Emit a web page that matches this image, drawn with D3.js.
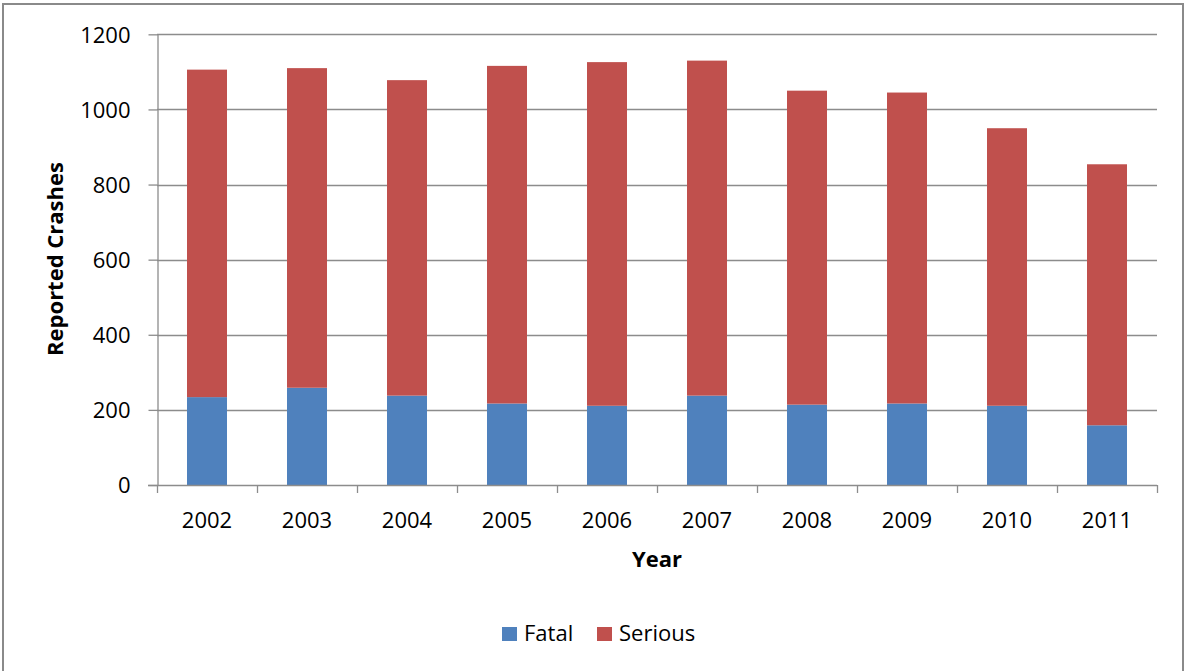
<!DOCTYPE html>
<html>
<head>
<meta charset="utf-8">
<script src="https://cdn.jsdelivr.net/npm/d3@7"></script>
<style>
  html, body { margin: 0; padding: 0; background: #fff; }
  svg { display: block; font-family: "Open Sans", sans-serif; }
</style>
</head>
<body>
<svg id="chart" width="1185" height="671"></svg>
<script>
const years = ["2002","2003","2004","2005","2006","2007","2008","2009","2010","2011"];
const fatal = [234, 259, 238, 217, 211, 238, 214, 217, 211, 159];
const serious = [872, 851, 840, 899, 915, 892, 836, 828, 739, 695];
const yTicks = [0, 200, 400, 600, 800, 1000, 1200];
const seriesNames = ["Fatal", "Serious"];
const seriesColors = ["#4F81BD", "#C0504D"];

const svg = d3.select("#chart");
const gridColor = "#8c8c8c";

// outer border
svg.append("rect").attr("x", 3).attr("y", 4).attr("width", 1180).attr("height", 700)
  .attr("fill", "none").attr("stroke", "#8a8a8a").attr("stroke-width", 2);

const x = d3.scaleBand().domain(years).range([157, 1157]).paddingInner(0.6).paddingOuter(0.3);
const y = d3.scaleLinear().domain([0, 1200]).range([485, 34.33]);

// gridlines
svg.append("g").selectAll("line").data(yTicks.filter(d => d > 0)).join("line")
  .attr("x1", 157).attr("x2", 1157)
  .attr("y1", d => Math.round(y(d)) + 0.5).attr("y2", d => Math.round(y(d)) + 0.5)
  .attr("stroke", gridColor).attr("stroke-width", 1.3);

// stacked bars
const rows = years.map((yr, i) => ({ year: yr, Fatal: fatal[i], Serious: serious[i] }));
const stack = d3.stack().keys(seriesNames)(rows);
svg.append("g").selectAll("g").data(stack).join("g")
  .attr("fill", (d, i) => seriesColors[i])
  .selectAll("rect").data(d => d).join("rect")
  .attr("x", d => x(d.data.year))
  .attr("width", x.bandwidth())
  .attr("y", d => y(d[1]))
  .attr("height", d => y(d[0]) - y(d[1]));

// y axis
const yAxis = d3.axisLeft(y).tickValues(yTicks).tickFormat(d3.format("d"))
  .tickSize(9).tickPadding(18).tickSizeOuter(0);
const gy = svg.append("g").attr("transform", "translate(157.5,0)").call(yAxis);
gy.select(".domain").attr("stroke", gridColor).attr("stroke-width", 1.3);
gy.selectAll(".tick line").attr("stroke", gridColor).attr("stroke-width", 1.3);
gy.selectAll(".tick text").attr("font-size", 22).attr("fill", "#000")
  .attr("font-family", "'Open Sans', sans-serif").attr("dy", "0.36em");

// x axis baseline
svg.append("line").attr("x1", 148).attr("x2", 1157).attr("y1", 485.5).attr("y2", 485.5)
  .attr("stroke", gridColor).attr("stroke-width", 1.3);

// x axis boundary ticks
const step = x.step();
const boundaries = years.map(yr => x(yr) - (step - x.bandwidth()) / 2).concat([x(years[years.length - 1]) + x.bandwidth() + (step - x.bandwidth()) / 2]);
svg.append("g").selectAll("line").data(boundaries).join("line")
  .attr("x1", d => Math.round(d) + 0.5).attr("x2", d => Math.round(d) + 0.5)
  .attr("y1", 485).attr("y2", 493)
  .attr("stroke", gridColor).attr("stroke-width", 1.3);

// x labels
const xAxis = d3.axisBottom(x).tickSize(0).tickPadding(0);
const gx = svg.append("g").attr("transform", "translate(0,485)").call(xAxis);
gx.select(".domain").remove();
gx.selectAll(".tick text").attr("font-size", 22).attr("fill", "#000")
  .attr("font-family", "'Open Sans', sans-serif").attr("y", 43).attr("dy", 0);

// axis titles
svg.append("text").attr("x", 657).attr("y", 567).attr("text-anchor", "middle")
  .attr("font-size", 22).attr("font-weight", "bold").text("Year");
svg.append("text").attr("transform", "translate(63,259) rotate(-90)").attr("text-anchor", "middle")
  .attr("font-size", 22).attr("font-weight", "bold").text("Reported Crashes");

// legend
const legendX = [502, 597];
const lg = svg.append("g");
seriesNames.forEach((name, i) => {
  lg.append("rect").attr("x", legendX[i]).attr("y", 627).attr("width", 15).attr("height", 14)
    .attr("fill", seriesColors[i]);
  lg.append("text").attr("x", legendX[i] + 22).attr("y", 641).attr("font-size", 22)
    .attr("fill", "#000").text(name);
});
</script>
</body>
</html>
